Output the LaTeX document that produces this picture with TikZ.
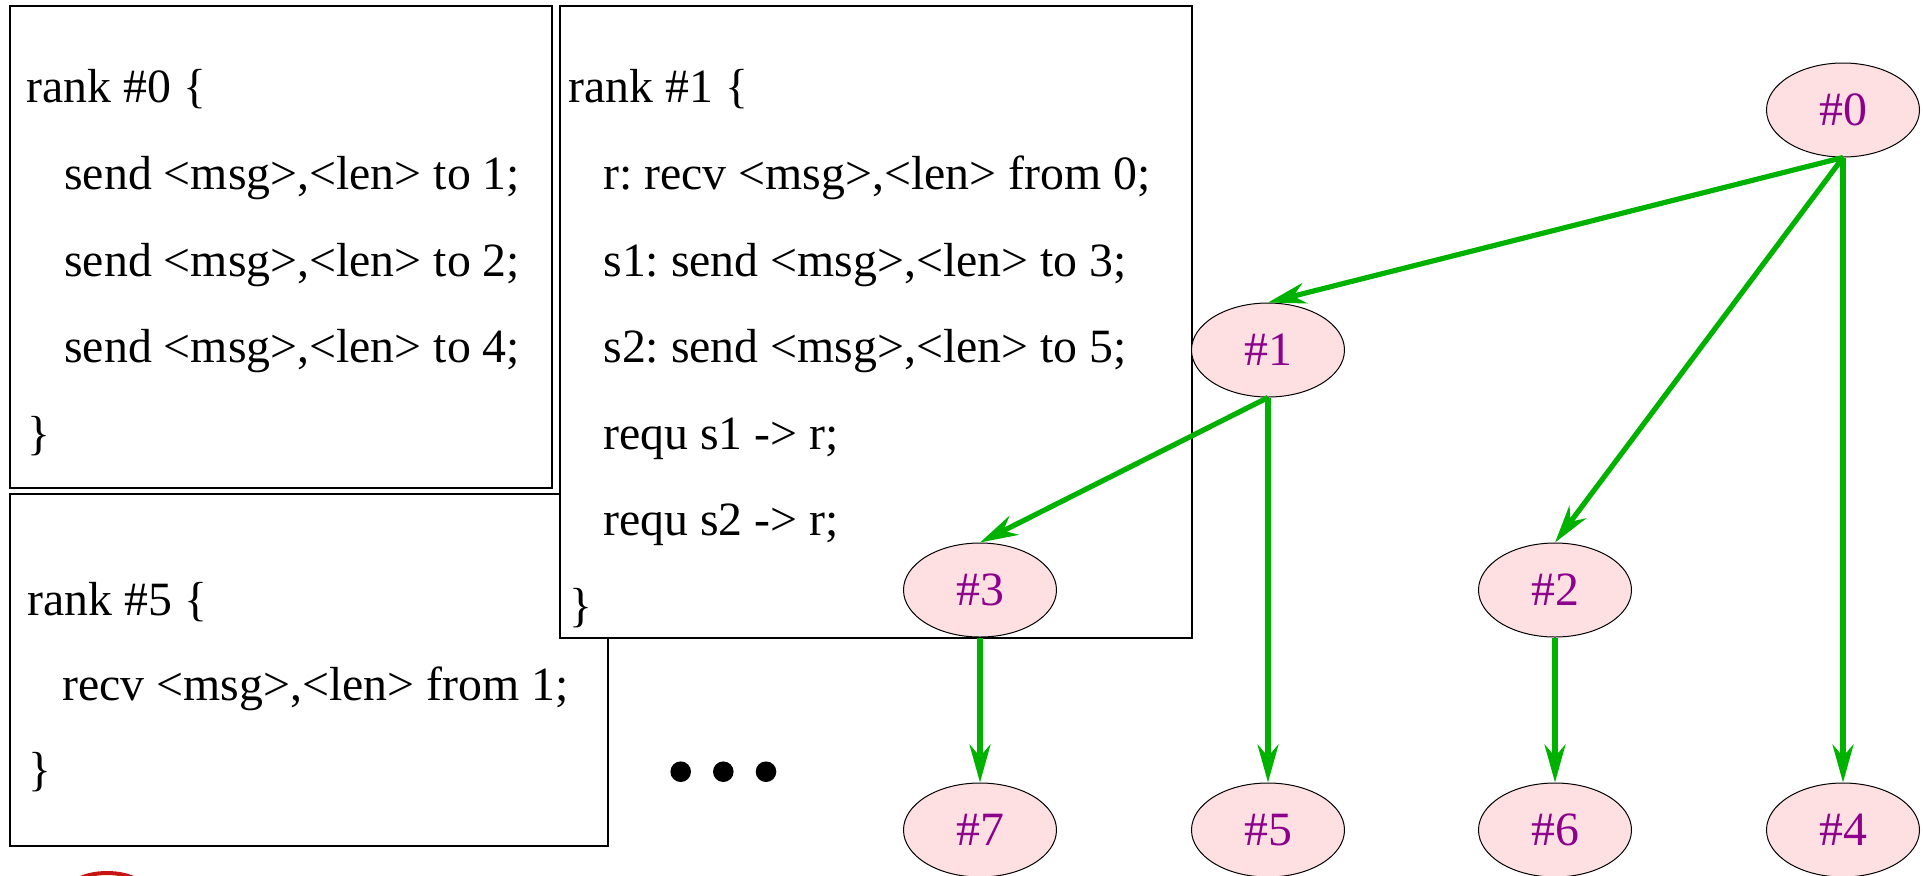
\documentclass[tikz,border=0pt]{standalone}
\usepackage{fontspec}
\setmainfont{Liberation Serif}
\usetikzlibrary{shapes.geometric,arrows.meta}
\definecolor{edgegreen}{RGB}{0,178,0}
\definecolor{nodefill}{RGB}{255,224,226}
\definecolor{labelpurple}{RGB}{140,0,140}
\definecolor{markred}{RGB}{200,20,20}
\newcommand\codefont{\fontsize{23.9}{28}\selectfont}
\frenchspacing
\begin{document}
\begin{tikzpicture}[x=0.5pt,y=-0.5pt,
  codebox/.style={draw=black, line width=1pt, fill=white, rectangle, inner sep=0pt, outer sep=0pt, anchor=north west},
  codeline/.style={anchor=base west, inner sep=0pt, font=\codefont},
  rank/.style={ellipse, draw=black, line width=0.5pt, fill=nodefill, minimum width=76.5pt, minimum height=47pt, inner sep=0pt, font=\codefont, text=labelpurple},
  msg/.style={draw=edgegreen, line width=2.6pt, -{Stealth[length=19pt, width=10.5pt, inset=6pt]}},
  dotmark/.style={circle, fill=black, inner sep=0pt, minimum size=10.3pt}
]
\useasboundingbox (0,0) rectangle (1923,875);
\clip (0,0) rectangle (1923,875);

% code boxes
\node[codebox, minimum width=271pt, minimum height=241pt] (box0) at (10,6) {};
\node[codebox, minimum width=299pt, minimum height=176pt] (box5) at (10,494) {};
\node[codebox, minimum width=316pt, minimum height=316pt] (box1) at (560,6) {};

% rank 0 text
\node[codeline] (t0a) at (26,102.5) {rank \#0 \{};
\node[codeline] (t0b) at (64,189) {send <msg>,<len> to 1;};
\node[codeline] (t0c) at (64,276) {send <msg>,<len> to 2;};
\node[codeline] (t0d) at (64,362) {send <msg>,<len> to 4;};
\node[codeline] (t0e) at (27,449) {\}};

% rank 1 text
\node[codeline] (t1a) at (568,102.5) {rank \#1 \{};
\node[codeline] (t1b) at (603,189) {r: recv <msg>,<len> from 0;};
\node[codeline] (t1c) at (603,276) {s1: send <msg>,<len> to 3;};
\node[codeline] (t1d) at (603,362) {s2: send <msg>,<len> to 5;};
\node[codeline] (t1e) at (603,449) {requ s1 -> r;};
\node[codeline] (t1f) at (603,535) {requ s2 -> r;};
\node[codeline] (t1g) at (569,621) {\}};

% rank 5 text
\node[codeline] (t5a) at (27,615) {rank \#5 \{};
\node[codeline] (t5b) at (62,700) {recv <msg>,<len> from 1;};
\node[codeline] (t5c) at (28,785) {\}};

% ellipsis dots
\node[dotmark] (d1) at (680.7,771.7) {};
\node[dotmark] (d2) at (723.3,771.7) {};
\node[dotmark] (d3) at (766,771.7) {};

% red partial mark at bottom left
\draw[markred, line width=2pt] (107,893) ellipse [x radius=40, y radius=20];

% tree nodes
\node[rank] (n0) at (1843,110) {\#0};
\node[rank] (n1) at (1268,350) {\#1};
\node[rank] (n3) at (980,590) {\#3};
\node[rank] (n2) at (1555,590) {\#2};
\node[rank] (n7) at (980,830) {\#7};
\node[rank] (n5) at (1268,830) {\#5};
\node[rank] (n6) at (1555,830) {\#6};
\node[rank] (n4) at (1843,830) {\#4};

% edges
\draw[msg] (n0.south) -- (n1.north);
\draw[msg] (n0.south) -- (n2.north);
\draw[msg] (n0.south) -- (n4.north);
\draw[msg] (n1.south) -- (n3.north);
\draw[msg] (n1.south) -- (n5.north);
\draw[msg] (n3.south) -- (n7.north);
\draw[msg] (n2.south) -- (n6.north);
\end{tikzpicture}
\end{document}
